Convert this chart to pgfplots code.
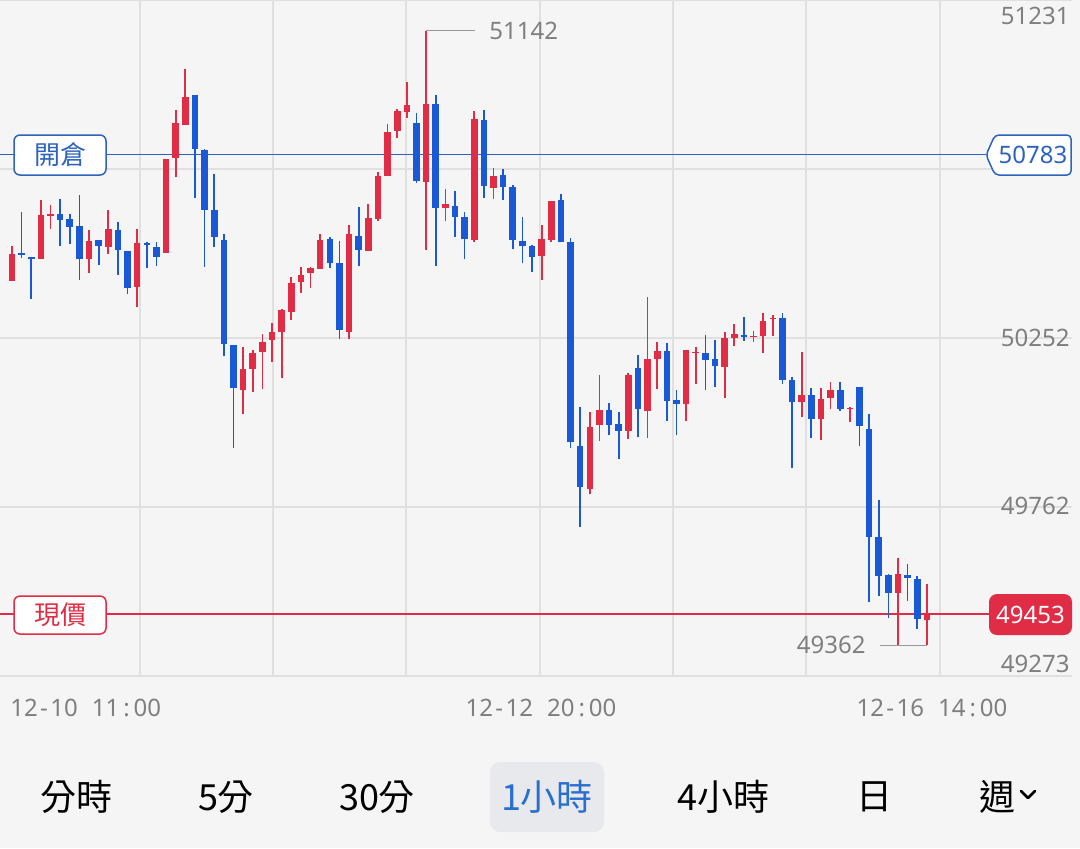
\documentclass[border=0pt]{standalone}
\usepackage{pgfplots}
\pgfplotsset{compat=1.18}
\usepackage{pgfplotstable}
\usepackage{fontspec}
\setmainfont{Noto Sans}
\newfontfamily\cjk{Noto Sans CJK TC}
\definecolor{bg}{HTML}{F5F5F5}
\definecolor{gridc}{HTML}{E0E0E0}
\definecolor{upred}{HTML}{E12C45}
\definecolor{dnblue}{HTML}{1A59D6}
\definecolor{openblue}{HTML}{2D62BE}
\definecolor{lblgray}{HTML}{7F7F7F}
\definecolor{tabbg}{HTML}{E8E9EC}
\definecolor{tabblue}{HTML}{2A6FD0}

% rising candles (red): index, open, high, low, close
\pgfplotstableread{
k O H L C
1 50417 50519 50417 50494
4 50481 50651 50481 50607
5 50606 50636 50568 50610
9 50480 50564 50441 50533
11 50515 50622 50494 50568
14 50401 50568 50342 50528
17 50499 50770 50499 50770
18 50772 50912 50717 50875
19 50870 51032 50870 50950
25 50102 50227 50032 50162
26 50162 50216 50096 50208
27 50211 50264 50105 50240
28 50246 50295 50182 50270
29 50268 50337 50137 50332
30 50328 50428 50304 50412
31 50415 50458 50381 50434
32 50439 50458 50398 50456
33 50453 50554 50453 50537
36 50270 50580 50250 50553
38 50505 50640 50505 50600
39 50597 50734 50591 50721
40 50721 50872 50721 50850
41 50852 50914 50830 50910
42 50907 50994 50890 50926
44 50705 51142 50507 50930
46 50628 50684 50592 50641
49 50536 50910 50531 50886
51 50687 50745 50654 50720
56 50489 50578 50420 50539
57 50536 50649 50531 50649
61 49815 50038 49799 49993
62 50000 50144 49954 50043
65 49983 50151 49959 50145
67 50041 50370 49961 50191
68 50190 50241 50105 50215
71 50060 50218 50012 50218
72 50209 50227 50119 50212
75 50168 50268 50077 50252
76 50253 50292 50230 50264
78 50256 50273 50241 50259
79 50259 50324 50209 50301
80 50306 50319 50259 50309
83 50067 50211 50022 50086
85 50016 50106 49957 50075
86 50077 50125 50046 50101
88 50046 50053 50008 50049
93 49514 49614 49362 49568
96 49435 49539 49362 49453
}\upcandles

% falling candles (blue): index, open, high, low, close
\pgfplotstableread{
k O H L C
2 50497 50617 50483 50492
3 50486 50488 50364 50481
6 50610 50654 50518 50595
7 50596 50611 50525 50574
8 50576 50666 50420 50480
10 50535 50535 50464 50518
12 50566 50589 50434 50508
13 50504 50504 50379 50397
15 50527 50531 50454 50521
16 50516 50531 50460 50486
20 50955 50955 50658 50799
21 50796 50799 50458 50624
22 50622 50726 50515 50544
23 50537 50553 50199 50234
24 50232 50232 49932 50108
34 50538 50545 50454 50470
35 50470 50533 50249 50275
37 50547 50631 50460 50507
43 50876 50904 50702 50707
45 50930 50957 50461 50628
47 50635 50677 50545 50603
48 50602 50618 50480 50538
50 50884 50912 50658 50692
52 50723 50742 50652 50690
53 50689 50694 50509 50536
54 50534 50602 50468 50518
55 50518 50520 50444 50487
58 50651 50669 50529 50529
59 50529 50542 49934 49952
60 49938 50052 49704 49820
63 50043 50065 49970 50000
64 50003 50039 49902 49982
66 50166 50203 49964 50045
69 50213 50238 50012 50071
70 50073 50102 49970 50060
73 50209 50262 50101 50188
74 50190 50246 50111 50170
77 50262 50314 50244 50256
81 50309 50324 50120 50131
82 50130 50138 49875 50067
84 50087 50106 49961 50017
87 50100 50125 50041 50047
89 50109 50109 49940 49996
90 49988 50031 49487 49676
91 49675 49782 49506 49564
92 49565 49568 49442 49513
94 49566 49598 49490 49556
95 49553 49562 49409 49437
}\downcandles

\begin{document}
\begin{tikzpicture}
\begin{scope}[x=0.5pt,y=-0.5pt]
\fill[bg] (0,0) rectangle (1080,848);
\end{scope}
\begin{axis}[
  at={(0,0)}, anchor=north west,
  scale only axis, width=536pt, height=338pt,
  xmin=-0.2461, xmax=111.07, ymin=49273, ymax=51231,
  axis line style={draw=none},
  xtick=\empty, ytick=\empty,
  clip=true,
]
% grid
\draw[gridc, line width=0.75pt] (axis cs:-0.2461,49273) -- (axis cs:111.07,49273);
\draw[gridc, line width=0.75pt] (axis cs:-0.2461,49762.5) -- (axis cs:111.07,49762.5);
\draw[gridc, line width=0.75pt] (axis cs:-0.2461,50252) -- (axis cs:111.07,50252);
\draw[gridc, line width=0.75pt] (axis cs:-0.2461,50741.5) -- (axis cs:111.07,50741.5);
\draw[gridc, line width=0.75pt] (axis cs:-0.2461,51231) -- (axis cs:111.07,51231);
\draw[gridc, line width=0.75pt] (axis cs:14.29,49273) -- (axis cs:14.29,51231);
\draw[gridc, line width=0.75pt] (axis cs:28.10,49273) -- (axis cs:28.10,51231);
\draw[gridc, line width=0.75pt] (axis cs:41.91,49273) -- (axis cs:41.91,51231);
\draw[gridc, line width=0.75pt] (axis cs:55.83,49273) -- (axis cs:55.83,51231);
\draw[gridc, line width=0.75pt] (axis cs:69.64,49273) -- (axis cs:69.64,51231);
\draw[gridc, line width=0.75pt] (axis cs:83.45,49273) -- (axis cs:83.45,51231);
\draw[gridc, line width=0.75pt] (axis cs:97.37,49273) -- (axis cs:97.37,51231);
% reference lines: open position and current price
\addplot[openblue, line width=0.75pt, forget plot] coordinates {(-0.2461,50783) (102.14,50783)};
\addplot[upred, line width=0.75pt, forget plot] coordinates {(-0.2461,49453) (102.45,49453)};
% falling candles: wicks, then bodies
\addplot[draw=none, mark=none, forget plot, error bars/.cd, y dir=plus, y explicit, error mark=none,
  error bar style={draw=dnblue, line width=0.85pt}]
  table[x=k, y=L, y error plus expr=\thisrow{H}-\thisrow{L}] {\downcandles};
\addplot[draw=none, mark=none, forget plot, error bars/.cd, y dir=plus, y explicit, error mark=none,
  error bar style={draw=dnblue, line width=3.3pt}]
  table[x=k, y=C, y error plus expr=\thisrow{O}-\thisrow{C}] {\downcandles};
% rising candles: wicks, then bodies
\addplot[draw=none, mark=none, forget plot, error bars/.cd, y dir=plus, y explicit, error mark=none,
  error bar style={draw=upred, line width=0.85pt}]
  table[x=k, y=L, y error plus expr=\thisrow{H}-\thisrow{L}] {\upcandles};
\addplot[draw=none, mark=none, forget plot, error bars/.cd, y dir=plus, y explicit, error mark=none,
  error bar style={draw=upred, line width=3.3pt}]
  table[x=k, y=O, y error plus expr=\thisrow{C}-\thisrow{O}] {\upcandles};
\end{axis}
\begin{scope}[x=0.5pt,y=-0.5pt]
% y labels
\begin{scope}[every node/.style={anchor=east, inner sep=0pt, text=lblgray, font=\fontsize{12pt}{14pt}\selectfont}]
\node at (1070,15.5) {51231};
\node at (1070,337.5) {50252};
\node at (1070,506) {49762};
\node at (1070,664) {49273};
\end{scope}
% x labels
\begin{scope}[every node/.style={inner sep=0pt, text=lblgray, font=\fontsize{12pt}{14pt}\selectfont}]
\node[anchor=west] at (10,708) {12\kern1.2pt-\kern1.2pt10\hspace{7pt}11\kern2pt:\kern2pt00};
\node at (541,708) {12\kern1.2pt-\kern1.2pt12\hspace{7pt}20\kern2pt:\kern2pt00};
\node at (932,708) {12\kern1.2pt-\kern1.2pt16\hspace{7pt}14\kern2pt:\kern2pt00};
\end{scope}
% high / low markers
\draw[lblgray!80, line width=0.6pt] (426,30.7) -- (475,30.7);
\node[anchor=west, inner sep=0pt, text=lblgray, font=\fontsize{12pt}{14pt}\selectfont] at (489,30.7) {51142};
\draw[lblgray!80, line width=0.6pt] (880,645.3) -- (927,645.3);
\node[anchor=east, inner sep=0pt, text=lblgray, font=\fontsize{12pt}{14pt}\selectfont] at (866,645.3) {49362};
% open position box and tag
\draw[openblue, line width=0.75pt, fill=white, rounded corners=3pt] (14,135) rectangle (106,175);
\node[text=openblue, font=\cjk\fontsize{13pt}{15pt}\selectfont] at (60,155) {開倉};
\draw[openblue, line width=0.75pt, fill=white, rounded corners=2pt] (995,135) -- (1071,135) -- (1071,175) -- (995,175) -- (986,155) -- cycle;
\node[text=openblue, inner sep=0pt, font=\fontsize{12pt}{14pt}\selectfont] at (1033,155) {50783};
% current price box and tag
\draw[upred, line width=0.75pt, fill=white, rounded corners=3pt] (14,596) rectangle (106,634);
\node[text=upred, font=\cjk\fontsize{13pt}{15pt}\selectfont] at (60,615) {現價};
\fill[upred, rounded corners=4pt] (989,594) rectangle (1072,635);
\node[text=white, inner sep=0pt, font=\fontsize{12pt}{14pt}\selectfont] at (1030.5,614.5) {49453};
% bottom tabs
\fill[tabbg, rounded corners=5pt] (490,762) rectangle (604,832);
\begin{scope}[every node/.style={inner sep=0pt, font=\cjk\fontsize{18pt}{20pt}\selectfont}]
\node at (76,797) {分時};
\node at (226,797) {5分};
\node at (377,797) {30分};
\node[text=tabblue] at (547,797) {1小時};
\node at (723,797) {4小時};
\node at (874,797) {日};
\node at (997,797) {週};
\end{scope}
\draw[black, line width=1.3pt, line cap=round, line join=round] (1021,791) -- (1028,798) -- (1035,791);
\end{scope}
\pgfresetboundingbox
\path (0,0) rectangle (540pt,-424pt);
\end{tikzpicture}
\end{document}
